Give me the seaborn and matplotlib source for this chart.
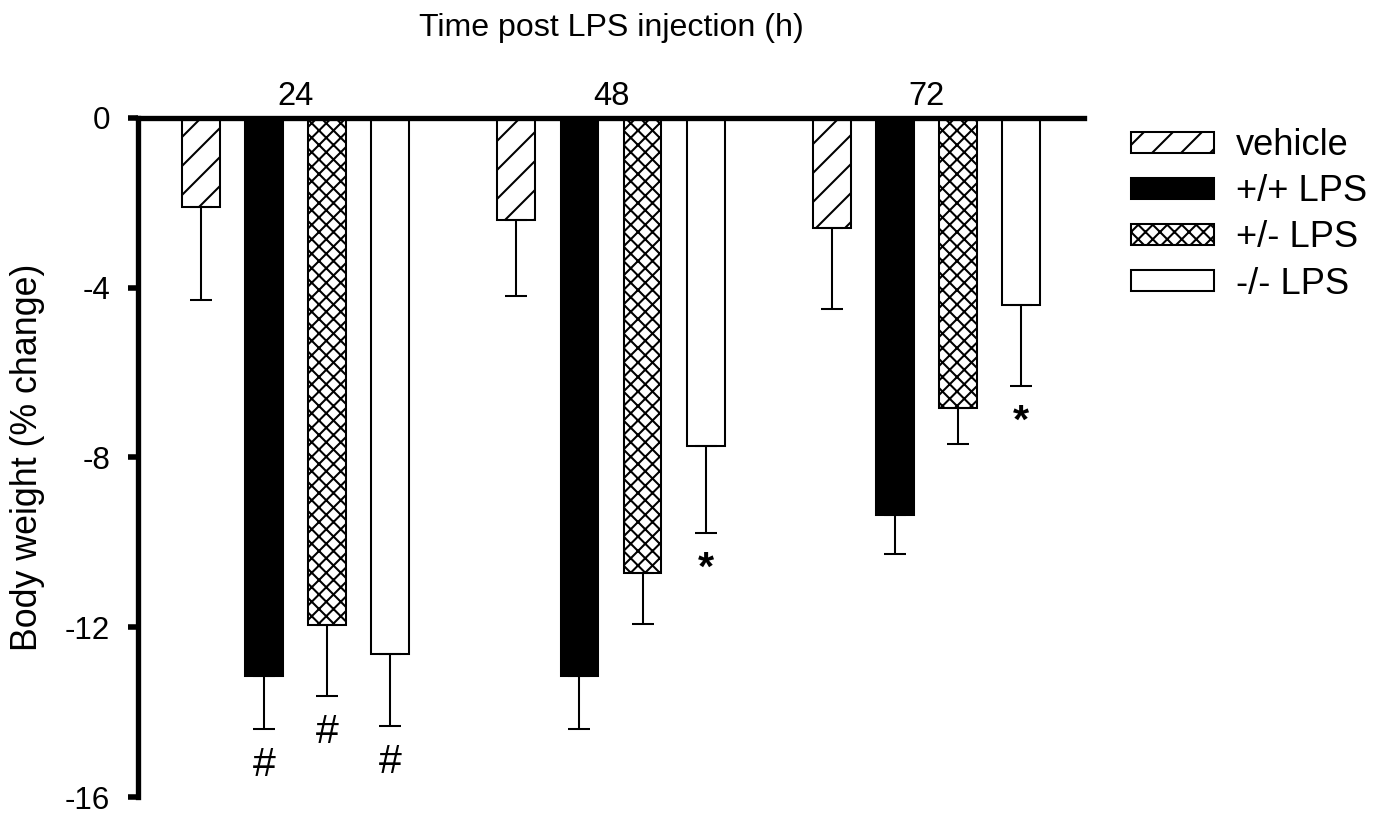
import numpy as np
import pandas as pd
import matplotlib
import matplotlib.pyplot as plt
import seaborn as sns

matplotlib.use("Agg")

# dados (% de variação do peso corporal)
times = ["24", "48", "72"]
groups = ["vehicle", "+/+ LPS", "+/- LPS", "-/- LPS"]

vehicle = [-2.1, -2.4, -2.6]
wt_lps = [-13.15, -13.15, -9.35]
het_lps = [-11.95, -10.72, -6.83]
ko_lps = [-12.63, -7.73, -4.41]

vehicle_err = [2.2, 1.8, 1.9]
wt_err = [1.24, 1.24, 0.93]
het_err = [1.68, 1.2, 0.86]
ko_err = [1.7, 2.04, 1.9]

vehicle_sig = ["", "", ""]
wt_sig = ["#", "", ""]
het_sig = ["#", "", ""]
ko_sig = ["#", "*", "*"]

colors = ["white", "black", "white", "white"]
hatches = ["//", "", "xxxx", ""]

df = pd.DataFrame({
    "time": times * len(groups),
    "group": np.repeat(groups, len(times)),
    "change": vehicle + wt_lps + het_lps + ko_lps,
})
errs = [vehicle_err, wt_err, het_err, ko_err]
sigs = [vehicle_sig, wt_sig, het_sig, ko_sig]

sns.set_style("ticks", {
    "axes.edgecolor": "black", "xtick.color": "black", "ytick.color": "black",
    "text.color": "black", "axes.labelcolor": "black",
})
plt.rcParams["font.family"] = ["Liberation Sans", "DejaVu Sans"]
plt.rcParams["axes.unicode_minus"] = False
plt.rcParams["hatch.linewidth"] = 0.85

DPI = 174  # o tamanho do hatch no Agg acompanha o dpi
fig = plt.figure(figsize=(1383 / DPI, 820 / DPI), dpi=DPI)
ax = fig.add_axes([0.0998, 0.028, 0.684, 0.8285])

sns.barplot(
    data=df, x="time", y="change", hue="group", order=times, hue_order=groups,
    palette=dict(zip(groups, colors)), saturation=1, edgecolor="black",
    linewidth=0.85, width=0.8, gap=0.4, errorbar=None, legend=False, ax=ax,
)

bars = list(ax.containers)
for cont, h in zip(bars, hatches):
    for p in cont:
        p.set_hatch(h)

# barras de erro só para baixo + marcas de significância
for cont, err, sig in zip(bars, errs, sigs):
    xs = [p.get_x() + p.get_width() / 2 for p in cont]
    ys = [p.get_y() + p.get_height() for p in cont]
    ax.errorbar(xs, ys, yerr=[err, np.zeros(len(err))], fmt="none",
                ecolor="black", elinewidth=0.85, capsize=4.4, capthick=0.85)
    for x, y, e, s in zip(xs, ys, err, sig):
        if s:
            ax.annotate(s, (x, y - e), xytext=(0, -7), textcoords="offset points",
                        ha="center", va="top", fontsize=17,
                        fontweight="bold" if s == "*" else "normal")

ax.set_xlim(-0.5, 2.5)
ax.set_ylim(-16, 0)
ax.set_yticks([-16, -12, -8, -4, 0])
ax.xaxis.tick_top()
ax.tick_params(axis="x", length=0, pad=2.5, labelsize=13.5)
ax.tick_params(axis="y", direction="out", length=4, width=2.3, pad=7.5, labelsize=13)
for side in ["right", "bottom"]:
    ax.spines[side].set_visible(False)
for side in ["top", "left"]:
    ax.spines[side].set_linewidth(2.2)

ax.set_xlabel("")
ax.set_ylabel("Body weight (% change)", fontsize=14.8)
ax.yaxis.set_label_coords(-0.098, 0.5)
ax.text(0.5, 1.12, "Time post LPS injection (h)", transform=ax.transAxes,
        ha="center", va="baseline", fontsize=13.3)

ax.legend(
    handles=bars, labels=groups, loc="upper left",
    bbox_to_anchor=(0.818, 0.844), bbox_transform=fig.transFigure,
    frameon=False, fontsize=15, handlelength=2.29, handleheight=0.52,
    handletextpad=0.6, labelspacing=0.31, borderpad=0, borderaxespad=0,
)

fig.savefig("out.png", dpi=DPI)
plt.close()
